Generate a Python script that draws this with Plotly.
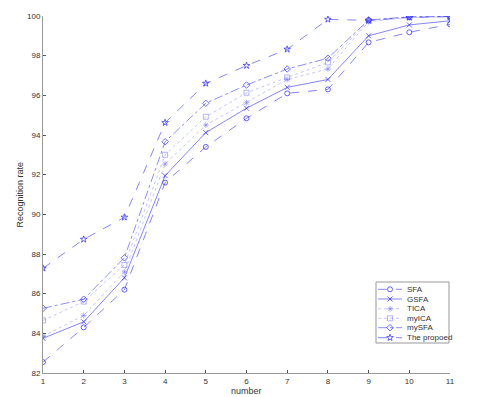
import plotly.graph_objects as go

x_values = [1, 2, 3, 4, 5, 6, 7, 8, 9, 10, 11]
sfa = [82.55, 84.3, 86.2, 91.6, 93.4, 94.84, 96.1, 96.3, 98.67, 99.18, 99.58]
gsfa = [83.75, 84.58, 86.8, 91.95, 94.12, 95.35, 96.4, 96.8, 99.0, 99.55, 99.76]
tica = [83.85, 84.9, 87.1, 92.54, 94.5, 95.63, 96.8, 97.33, 99.72, 99.92, 99.96]
myica = [84.65, 85.6, 87.45, 93.0, 94.92, 96.13, 96.9, 97.66, 99.76, 99.94, 99.97]
mysfa = [85.26, 85.72, 87.81, 93.66, 95.6, 96.52, 97.33, 97.87, 99.8, 99.96, 99.98]
proposed = [87.28, 88.74, 89.85, 94.62, 96.6, 97.5, 98.32, 99.83, 99.78, 99.93, 99.97]

names = ["SFA", "GSFA", "TICA", "myICA", "mySFA", "The propoed"]
series = [sfa, gsfa, tica, myica, mysfa, proposed]
dashes = ["dash", "solid", "dot", "dot", "dashdot", "dash"]
symbols = ["circle-open", "x-thin-open", "asterisk-open", "square-open", "diamond-open", "star-open"]
colors = ["rgba(50,50,255,0.75)", "rgba(50,50,255,0.75)", "rgba(110,110,255,0.5)",
          "rgba(110,110,255,0.5)", "rgba(50,50,255,0.7)", "rgba(50,50,255,0.75)"]

# page-pixel frame of the plot area; page body has an 8px margin
OFF = 8
L, R, T, B = 43, 450, 16, 373
W, H = 480 - OFF, 397 - OFF

fig = go.Figure()
for name, ys, d, s, c in zip(names, series, dashes, symbols, colors):
    fig.add_trace(go.Scatter(
        x=x_values, y=ys, name=name, mode="lines+markers", showlegend=False,
        line=dict(color=c, width=0.8, dash=d),
        marker=dict(symbol=s, size=5, color=c, line=dict(color=c, width=1)),
    ))

# compact legend (MATLAB style) on an overlay axis in page-pixel units
leg_x0, leg_x1, leg_y0, leg_y1 = 376, 449, 282, 343
row_y = [289.3, 299, 308.8, 318.3, 327.7, 337.7]
for name, d, s, c, ry in zip(names, dashes, symbols, colors, row_y):
    fig.add_trace(go.Scatter(
        x=[378, 390, 402], y=[ry, ry, ry], mode="lines", xaxis="x2", yaxis="y2",
        showlegend=False, hoverinfo="skip",
        line=dict(color=c, width=0.8, dash=d)))
    fig.add_trace(go.Scatter(
        x=[390], y=[ry], mode="markers", xaxis="x2", yaxis="y2",
        showlegend=False, hoverinfo="skip",
        marker=dict(symbol=s, size=5, color=c, line=dict(color=c, width=1))))
    fig.add_annotation(x=405, y=ry, xref="x2", yref="y2", text=name,
                       showarrow=False, xanchor="left", yanchor="middle",
                       font=dict(size=8, color="#333"))
fig.add_shape(type="rect", xref="x2", yref="y2", x0=leg_x0, x1=leg_x1, y0=leg_y0, y1=leg_y1,
              line=dict(color="#999", width=1), fillcolor="rgba(0,0,0,0)", layer="below")

fig.update_layout(
    width=W, height=H,
    margin=dict(l=L - OFF, r=W - (R - OFF), t=T - OFF, b=H - (B - OFF), pad=0),
    paper_bgcolor="white", plot_bgcolor="white",
    font=dict(family="Arial, Liberation Sans", size=8, color="#333"),
    showlegend=False,
    xaxis2=dict(overlaying="x", range=[L, R], visible=False, fixedrange=True),
    yaxis2=dict(overlaying="y", range=[B, T], visible=False, fixedrange=True),
)
fig.layout.xaxis.update(range=[1, 11], tickvals=x_values, ticks="inside", ticklen=3,
                        showline=True, linecolor="#999", linewidth=1, showgrid=False,
                        zeroline=False, tickcolor="#555", automargin=False)
fig.layout.yaxis.update(range=[82, 100], dtick=2, ticks="inside", ticklen=3,
                        showline=True, linecolor="#999", linewidth=1, showgrid=False,
                        zeroline=False, tickcolor="#555", automargin=False)

fig.add_annotation(x=0.5, y=0, xref="paper", yref="paper", yshift=-18, text="number",
                   showarrow=False, xanchor="center", yanchor="middle",
                   font=dict(size=9, color="#333"))
fig.add_annotation(x=0, y=0.5, xref="paper", yref="paper", xshift=-24, text="Recognition rate",
                   showarrow=False, textangle=-90, xanchor="center", yanchor="middle",
                   font=dict(size=9, color="#333"))

fig.write_html("out.html")
